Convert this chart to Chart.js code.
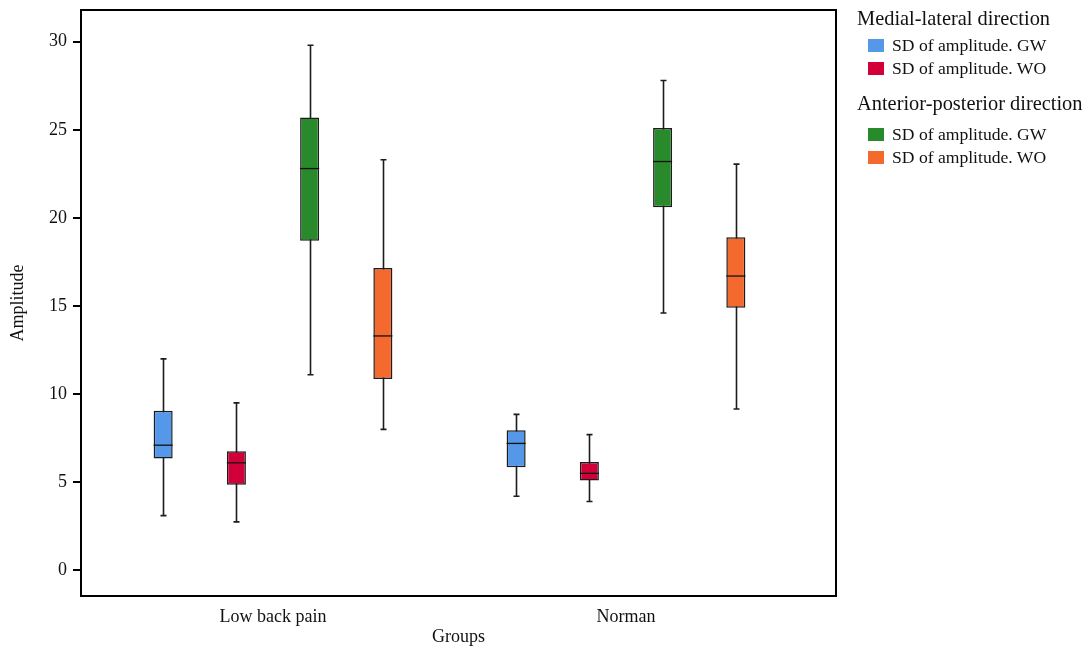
<!DOCTYPE html>
<html>
<head>
<meta charset="utf-8">
<script src="https://cdn.jsdelivr.net/npm/chart.js@4.4.0/dist/chart.umd.min.js"></script>
<style>
  html, body { margin: 0; padding: 0; background: #fff; }
  #wrap { position: relative; width: 1089px; height: 648px; }
  #legend { position: absolute; left: 857px; top: 6px; font-family: 'Liberation Serif', serif; color: #111; }
  #legend .grp + .grp { margin-top: 11px; }
  #legend .ttl { font-size: 20.4px; line-height: 24px; height: 24px; margin-bottom: 4px; white-space: nowrap; }
  #legend .grp + .grp .ttl { margin-bottom: 8px; }
  #legend .item { height: 23px; line-height: 23px; font-size: 17.6px; padding-left: 11px; white-space: nowrap; }
  #legend .sw { display: inline-block; width: 16px; height: 13px; margin-right: 8px; vertical-align: -1px; }
</style>
</head>
<body>
<div id="wrap">
  <canvas id="boxChart" width="1089" height="648"></canvas>
  <div id="legend"></div>
</div>
<script>
// group labels on the x axis
var groups = ['Low back pain', 'Norman'];

// legend headings
var groupTitles = ['Medial-lateral direction', 'Anterior-posterior direction'];

// series
var seriesNames  = ['SD of amplitude. GW', 'SD of amplitude. WO', 'SD of amplitude. GW', 'SD of amplitude. WO'];
var seriesGroup  = [0, 0, 1, 1];
var seriesColors = ['#5597E8', '#D20038', '#288A2B', '#F4692E'];

// box plot values per series: [Low back pain, Norman]
var ml_gw_min = [3.1, 4.2],  ml_gw_q1 = [6.35, 5.85], ml_gw_med = [7.1, 7.2],   ml_gw_q3 = [9.05, 7.95], ml_gw_max = [12.0, 8.85];
var ml_wo_min = [2.75, 3.9], ml_wo_q1 = [4.85, 5.1],  ml_wo_med = [6.1, 5.5],   ml_wo_q3 = [6.75, 6.15], ml_wo_max = [9.5, 7.7];
var ap_gw_min = [11.1, 14.6], ap_gw_q1 = [18.7, 20.6], ap_gw_med = [22.8, 23.2], ap_gw_q3 = [25.7, 25.1], ap_gw_max = [29.8, 27.8];
var ap_wo_min = [8.0, 9.15], ap_wo_q1 = [10.85, 14.9], ap_wo_med = [13.3, 16.7], ap_wo_q3 = [17.15, 18.9], ap_wo_max = [23.3, 23.05];

var allMin = [ml_gw_min, ml_wo_min, ap_gw_min, ap_wo_min];
var allQ1  = [ml_gw_q1, ml_wo_q1, ap_gw_q1, ap_wo_q1];
var allMed = [ml_gw_med, ml_wo_med, ap_gw_med, ap_wo_med];
var allQ3  = [ml_gw_q3, ml_wo_q3, ap_gw_q3, ap_wo_q3];
var allMax = [ml_gw_max, ml_wo_max, ap_gw_max, ap_wo_max];

var yTicks = [0, 5, 10, 15, 20, 25, 30];

var FONT = "'Liberation Serif', serif";

function buildDatasets(){
    var ds = [];
    for (var s = 0; s < seriesNames.length; s++){
        var pts = [];
        for (var g = 0; g < groups.length; g++){
            pts.push({ x: g + 1, y: [allQ1[s][g], allQ3[s][g]] });
        }
        ds.push({
            label: seriesNames[s],
            data: pts,
            backgroundColor: seriesColors[s],
            borderColor: '#1c1c1c',
            borderWidth: 1.5,
            borderSkipped: false,
            categoryPercentage: 0.83,
            barPercentage: 0.26,
            wMin: allMin[s],
            wMed: allMed[s],
            wMax: allMax[s],
            legendGroup: seriesGroup[s]
        });
    }
    return ds;
}

// whiskers behind the boxes, medians on top
var boxPlotLines = {
    id: 'boxPlotLines',
    beforeDatasetsDraw: function(chart){
        var ctx = chart.ctx;
        var yScale = chart.scales.y;
        chart.data.datasets.forEach(function(ds, i){
            var meta = chart.getDatasetMeta(i);
            meta.data.forEach(function(bar, j){
                var x = Math.round(bar.x) + 0.5;
                var yTop = yScale.getPixelForValue(ds.wMax[j]);
                var yBot = yScale.getPixelForValue(ds.wMin[j]);
                ctx.save();
                ctx.strokeStyle = '#1c1c1c';
                ctx.lineWidth = 1.6;
                ctx.beginPath();
                ctx.moveTo(x, yTop);
                ctx.lineTo(x, yBot);
                ctx.moveTo(x - 3, yTop);
                ctx.lineTo(x + 3, yTop);
                ctx.moveTo(x - 3, yBot);
                ctx.lineTo(x + 3, yBot);
                ctx.stroke();
                ctx.restore();
            });
        });
    },
    afterDatasetsDraw: function(chart){
        var ctx = chart.ctx;
        var yScale = chart.scales.y;
        chart.data.datasets.forEach(function(ds, i){
            var meta = chart.getDatasetMeta(i);
            meta.data.forEach(function(bar, j){
                var ym = yScale.getPixelForValue(ds.wMed[j]);
                ctx.save();
                ctx.strokeStyle = '#111';
                ctx.lineWidth = 1.3;
                ctx.beginPath();
                ctx.moveTo(bar.x - bar.width / 2, ym);
                ctx.lineTo(bar.x + bar.width / 2, ym);
                ctx.stroke();
                ctx.restore();
            });
        });
    },
    afterDraw: function(chart){
        var a = chart.chartArea;
        var ctx = chart.ctx;
        ctx.save();
        ctx.strokeStyle = '#000';
        ctx.lineWidth = 2;
        ctx.strokeRect(a.left, a.top, a.right - a.left, a.bottom - a.top);
        ctx.restore();
    }
};

// html legend with two headings
var groupedLegend = {
    id: 'groupedLegend',
    afterUpdate: function(chart){
        var box = document.getElementById('legend');
        var html = '';
        for (var t = 0; t < groupTitles.length; t++){
            html += '<div class="grp"><div class="ttl">' + groupTitles[t] + '</div>';
            chart.data.datasets.forEach(function(ds){
                if (ds.legendGroup == t){
                    html += '<div class="item"><span class="sw" style="background:' + ds.backgroundColor + '"></span>' + ds.label + '</div>';
                }
            });
            html += '</div>';
        }
        box.innerHTML = html;
    }
};

var ctx = document.getElementById('boxChart').getContext('2d');
var boxChart = new Chart(ctx, {
    type: 'bar',
    data: { datasets: buildDatasets() },
    plugins: [boxPlotLines, groupedLegend],
    options: {
        responsive: false,
        animation: false,
        layout: { padding: { top: 10, right: 253, left: 0, bottom: 0 } },
        plugins: {
            legend: { display: false },
            tooltip: { enabled: false }
        },
        scales: {
            x: {
                type: 'linear',
                offset: false,
                min: 0.456,
                max: 2.595,
                grid: { display: false },
                border: { display: false },
                afterBuildTicks: function(scale){
                    scale.ticks = groups.map(function(g, i){ return { value: i + 1 }; });
                },
                afterFit: function(scale){
                    scale.height = 52;
                    scale.paddingLeft = 0;
                    scale.paddingRight = 0;
                },
                ticks: {
                    color: '#111',
                    padding: 2,
                    font: { family: FONT, size: 18 },
                    callback: function(v){ return groups[v - 1]; }
                },
                title: {
                    display: true,
                    text: 'Groups',
                    color: '#111',
                    padding: { top: 0, bottom: 0 },
                    font: { family: FONT, size: 18 }
                }
            },
            y: {
                min: -1.46,
                max: 31.8,
                grid: { display: true, drawOnChartArea: false, drawTicks: true, tickLength: 8, color: '#000', lineWidth: 2 },
                border: { display: false },
                afterBuildTicks: function(scale){
                    scale.ticks = yTicks.map(function(v){ return { value: v }; });
                },
                afterFit: function(scale){
                    scale.width = 81;
                    scale.paddingTop = 0;
                    scale.paddingBottom = 0;
                },
                ticks: {
                    color: '#111',
                    padding: 6,
                    font: { family: FONT, size: 18 }
                },
                title: {
                    display: true,
                    text: 'Amplitude',
                    color: '#111',
                    padding: { top: 7, bottom: 0 },
                    font: { family: FONT, size: 18 }
                }
            }
        }
    }
});
</script>
</body>
</html>
